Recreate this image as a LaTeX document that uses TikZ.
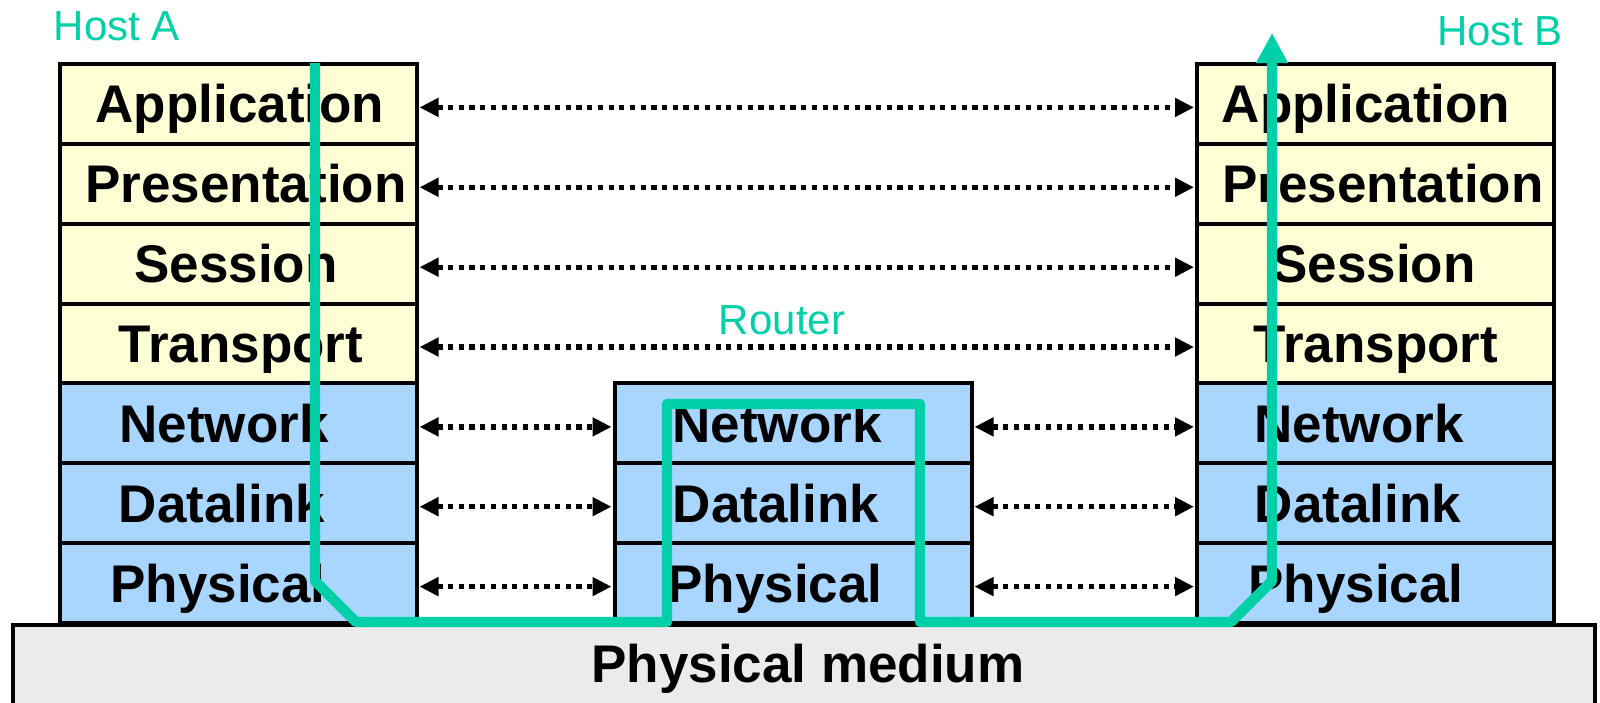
\documentclass[tikz,border=0pt]{standalone}
\usepackage{fontspec}
\setmainfont{Liberation Sans}
\usetikzlibrary{arrows.meta}
\definecolor{hostgreen}{HTML}{00D0A8}
\definecolor{upperc}{HTML}{FFFFD6}
\definecolor{lowerc}{HTML}{A8D6FF}
\definecolor{mediumc}{HTML}{EBEBEB}
\begin{document}
\begin{tikzpicture}[x=0.5pt,y=-0.5pt,
 layer/.style={draw=black, line width=2pt, minimum width=178.5pt, minimum height=39.93pt, inner sep=0pt, outer sep=0pt},
 upper/.style={layer, fill=upperc},
 lower/.style={layer, fill=lowerc},
 lbl/.style={font=\fontsize{26.5}{26.5}\selectfont\bfseries, text height=19pt, text depth=0pt, inner sep=0pt},
 glbl/.style={font=\fontsize{21}{21}\selectfont, text=hostgreen, text height=15pt, text depth=0pt, inner sep=0pt},
 peer/.style={line width=2.6pt, dash pattern=on 2.6pt off 2.75pt, {Triangle[length=9.5pt,width=9pt]}-{Triangle[length=9.5pt,width=9pt]}, shorten <=1.5pt, shorten >=1.5pt},
 flow/.style={draw=hostgreen, line width=5.2pt, line join=round, -{Triangle[length=15pt,width=15pt]}}
]
\useasboundingbox (0,0) rectangle (1600,702);
\begin{scope}
\clip (0,0) rectangle (1600,702);
\node[draw, line width=2pt, fill=mediumc, minimum width=791pt, minimum height=50pt, inner sep=0pt] (medium) at (803.5,675) {};
\end{scope}
\node[lbl] (mediumtext) at (808,663) {Physical medium};

% Host A
\node[upper] (a1) at (238,103.9) {};
\node[upper] (a2) at (238,183.8) {};
\node[upper] (a3) at (238,263.7) {};
\node[upper] (a4) at (238,343.5) {};
\node[lower] (a5) at (238,423.4) {};
\node[lower] (a6) at (238,503.2) {};
\node[lower] (a7) at (238,583.1) {};
\node[lbl] (ta1) at (240,103.9) {Application};
\node[lbl] (ta2) at (246,183.8) {Presentation};
\node[lbl] (ta3) at (236,263.7) {Session};
\node[lbl] (ta4) at (241,343.5) {Transport};
\node[lbl] (ta5) at (224,423.4) {Network};
\node[lbl] (ta6) at (222,503.2) {Datalink};
\node[lbl] (ta7) at (218,583.1) {Physical};

% Router
\node[lower] (r5) at (793,423.4) {};
\node[lower] (r6) at (793,503.2) {};
\node[lower] (r7) at (793,583.1) {};
\node[lbl] (tr5) at (777,423.4) {Network};
\node[lbl] (tr6) at (776,503.2) {Datalink};
\node[lbl] (tr7) at (775,583.1) {Physical};

% Host B
\node[upper] (b1) at (1375.5,103.9) {};
\node[upper] (b2) at (1375.5,183.8) {};
\node[upper] (b3) at (1375.5,263.7) {};
\node[upper] (b4) at (1375.5,343.5) {};
\node[lower] (b5) at (1375.5,423.4) {};
\node[lower] (b6) at (1375.5,503.2) {};
\node[lower] (b7) at (1375.5,583.1) {};
\node[lbl] (tb1) at (1366,103.9) {Application};
\node[lbl] (tb2) at (1383,183.8) {Presentation};
\node[lbl] (tb3) at (1374,263.7) {Session};
\node[lbl] (tb4) at (1376,343.5) {Transport};
\node[lbl] (tb5) at (1359,423.4) {Network};
\node[lbl] (tb6) at (1358,503.2) {Datalink};
\node[lbl] (tb7) at (1356,583.1) {Physical};

% labels
\node[glbl] (hosta) at (117,25) {Host A};
\node[glbl] (hostb) at (1500,30) {Host B};
\node[glbl] (router) at (782,319) {Router};

% peer arrows
\foreach \i in {1,2,3,4}
  \draw[peer] ([yshift=-1.75pt]a\i.east) -- ([yshift=-1.75pt]b\i.west);
\foreach \i in {5,6,7}{
  \draw[peer] ([yshift=-1.75pt]a\i.east) -- ([yshift=-1.75pt]r\i.west);
  \draw[peer] ([yshift=-1.75pt]r\i.east) -- ([yshift=-1.75pt]b\i.west);
}

% data flow
\coordinate (f0) at (315,63);
\coordinate (f1) at (315,581);
\coordinate (f2) at (356,622);
\coordinate (f3) at (667,622);
\coordinate (f4) at (667,404);
\coordinate (f5) at (920,404);
\coordinate (f6) at (920,622);
\coordinate (f7) at (1231,622);
\coordinate (f8) at (1272,581);
\coordinate (f9) at (1272,33);
\draw[flow] (f0) -- (f1) -- (f2) -- (f3) -- (f4) -- (f5) -- (f6) -- (f7) -- (f8) -- (f9);
\end{tikzpicture}
\end{document}
